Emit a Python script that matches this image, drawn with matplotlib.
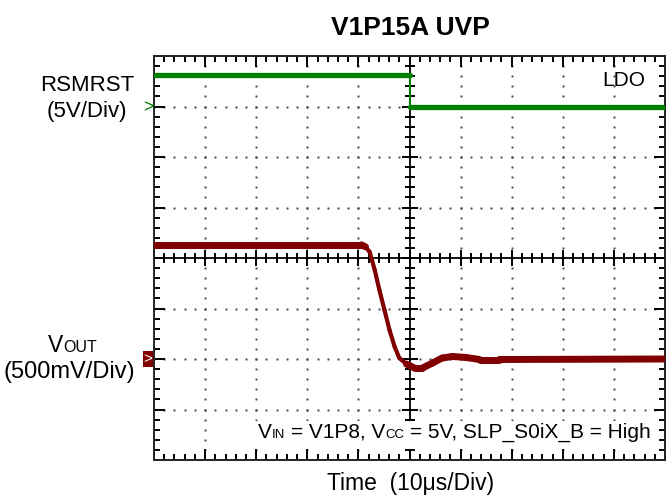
import matplotlib
matplotlib.use("Agg")
import matplotlib.pyplot as plt
import numpy as np
from matplotlib.collections import LineCollection
from matplotlib.patches import Rectangle
from matplotlib.transforms import IdentityTransform

plt.rcParams["font.family"] = ["Liberation Sans", "DejaVu Sans"]

W, H = 666, 500

title = "V1P15A UVP"
x_label = "Time  (10\u03bcs/Div)"
us_per_div = 10.0

# RSMRST channel, 5 V/div, ground marker 3 div above centre
rsmrst_t = [-50.0, 0.0, 0.0, 50.0]
rsmrst_v = [3.1, 3.1, 0.0, 0.0]
rsmrst_scale = 5.0
rsmrst_offset = 3.0

# VOUT channel, 500 mV/div, ground marker 2 div below centre
vout_t = [-50.0, -9.4, -8.6, -7.8, -6.8, -5.9, -4.9, -3.9, -2.9, -2.0,
          -0.6, 1.0, 2.5, 4.5, 6.4, 8.4, 11.1, 13.7, 17.6, 50.0]
vout_v = [1.13, 1.13, 1.11, 1.06, 0.88, 0.685, 0.485, 0.285, 0.12, 0.01,
          -0.05, -0.09, -0.09, -0.04, 0.01, 0.025, 0.015, -0.005, -0.005, 0.0]
vout_scale = 0.5
vout_offset = -2.0

GREEN = "#008000"
RED = "#800000"
GRID = "#444444"
INK = "#000000"


def to_div(t, v, scale, offset):
    return np.asarray(t) / us_per_div, offset + np.asarray(v) / scale


def pix(x, y):
    # image pixel (top-left origin) -> display coords
    return x, H - y


def rich_text(fig, x, y, parts, ha="left", color="black"):
    renderer = fig.canvas.get_renderer()
    items = []
    for s, size, gap in parts:
        t = fig.text(0, 0, s, fontsize=size, color=color, va="baseline", ha="left",
                     transform=IdentityTransform(), zorder=5)
        w = t.get_window_extent(renderer).width
        items.append((t, w, gap))
    total = sum(w + gap for _, w, gap in items)
    if ha == "right":
        start = x - total
    elif ha == "center":
        start = x - total / 2
    else:
        start = x
    x0 = start
    for t, w, gap in items:
        start += gap
        t.set_position(pix(start, y))
        start += w
    return x0, total


def trace(ax, x, y, color, thick, thin):
    # scope traces: flat parts look thick (noise band), fast edges thin
    for i in range(len(x) - 1):
        dx = (x[i + 1] - x[i]) * 51.1
        dy = (y[i + 1] - y[i]) * 50.5
        steep = abs(dy) > 0.8 * abs(dx)
        ax.plot(x[i:i + 2], y[i:i + 2], color=color, lw=thin if steep else thick,
                solid_capstyle="round", zorder=3)


fig = plt.figure(figsize=(W / 100, H / 100), dpi=100)
ax = fig.add_axes([154 / W, 40 / H, 511 / W, 404 / H])
ax.set_xlim(-5, 5)
ax.set_ylim(-4, 4)
ax.set_xticks([])
ax.set_yticks([])
for sp in ax.spines.values():
    sp.set_color("#222222")
    sp.set_linewidth(1.4)

xs_fine = np.round(np.arange(-5, 5.001, 0.2), 3)
ys_fine = np.round(np.arange(-4, 4.001, 0.2), 3)
is_major_x = np.abs(xs_fine - np.round(xs_fine)) < 1e-6
is_major_y = np.abs(ys_fine - np.round(ys_fine)) < 1e-6

# dotted graticule
for gx in range(-4, 5):
    if gx == 0:
        continue
    ax.plot(np.full_like(ys_fine, gx), ys_fine, ls="none", marker="s", ms=1.4,
            mew=0, color=GRID, zorder=1)
for gy in range(-3, 4):
    if gy == 0:
        continue
    ax.plot(xs_fine, np.full_like(xs_fine, gy), ls="none", marker="s", ms=1.4,
            mew=0, color=GRID, zorder=1)

# tick marks along frame and centre crosshair, in data units (1 px ~ 0.02 div)
px_x = 10 / 511
px_y = 8 / 404
segs = []
for x, major in zip(xs_fine, is_major_x):
    L = (11 if major else 6) * px_y
    segs.append([(x, 4 - L), (x, 4)])
    segs.append([(x, -4), (x, -4 + L)])
    c = (8 if major else 5) * px_y
    segs.append([(x, -c), (x, c)])
for y, major in zip(ys_fine, is_major_y):
    L = (11 if major else 6) * px_x
    segs.append([(-5, y), (-5 + L, y)])
    segs.append([(5 - L, y), (5, y)])
    c = (8 if major else 5) * px_x
    segs.append([(-c, y), (c, y)])
ax.add_collection(LineCollection(segs, colors=INK, linewidths=1.4, capstyle="butt", zorder=2))

ax.axhline(0, color=INK, lw=1.3, zorder=2)
ax.axvline(0, color=INK, lw=1.3, zorder=2)

# traces
gx_, gy_ = to_div(rsmrst_t, rsmrst_v, rsmrst_scale, rsmrst_offset)
trace(ax, gx_, gy_, GREEN, 3.8, 1.5)

rx, ry = to_div(vout_t, vout_v, vout_scale, vout_offset)
trace(ax, rx, ry, RED, 5.0, 3.0)

# texts
fig.text(*pix(410, 35), title, fontsize=19, fontweight="bold", ha="center", va="baseline",
         transform=IdentityTransform())
fig.text(*pix(411, 490), x_label, fontsize=16.5, ha="center", va="baseline",
         transform=IdentityTransform())
fig.text(*pix(87, 91), "RSMRST", fontsize=16, ha="center", va="baseline", transform=IdentityTransform())
fig.text(*pix(87, 117), "(5V/Div)", fontsize=16, ha="center", va="baseline", transform=IdentityTransform())
rich_text(fig, 72, 352, [("V", 16.5, 0), ("OUT", 11.5, 0)], ha="center")
fig.text(*pix(69, 378), "(500mV/Div)", fontsize=17, ha="center", va="baseline", transform=IdentityTransform())
fig.text(*pix(645, 86), "LDO", fontsize=15, ha="right", va="baseline", transform=IdentityTransform())

# channel markers
fig.text(*pix(148, 108), ">", fontsize=13, color=GREEN, ha="center", va="center",
         transform=IdentityTransform())
fig.add_artist(Rectangle(pix(143, 367), 10, 16, transform=IdentityTransform(),
                         facecolor=RED, edgecolor="none", zorder=4))
fig.text(*pix(148, 359), ">", fontsize=11, color="white", ha="center", va="center",
         transform=IdentityTransform(), zorder=5)

# condition note
sp_w = 5.8
x0, tw = rich_text(fig, 651, 438, [("V", 15, 0), ("IN", 9.5, 0), ("= V1P8, V", 15, sp_w),
                                   ("CC", 9.5, 0), ("= 5V, SLP_S0iX_B = High", 15, sp_w)], ha="right")
fig.add_artist(Rectangle(pix(x0 - 4, 449), tw + 8, 28, transform=IdentityTransform(),
                         facecolor="white", edgecolor="none", zorder=4))

fig.savefig("out.png", dpi=100)
